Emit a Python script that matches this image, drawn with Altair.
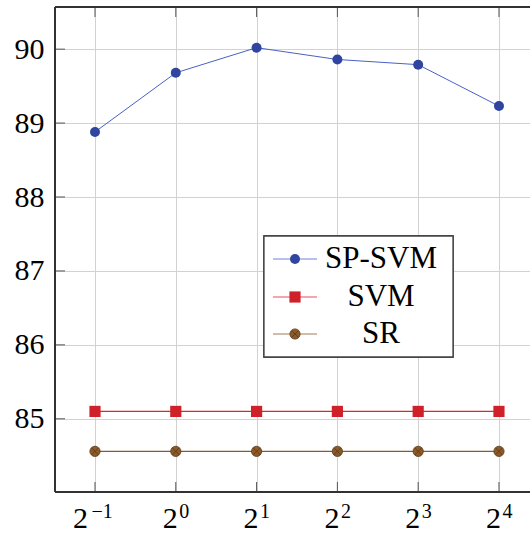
import altair as alt
import pandas as pd

# ---- data ----
exponents = [-1, 0, 1, 2, 3, 4]
exp_labels = ["−1", "0", "1", "2", "3", "4"]
sp_svm = [88.88, 89.68, 90.02, 89.86, 89.79, 89.23]
svm = [85.1, 85.1, 85.1, 85.1, 85.1, 85.1]
sr = [84.56, 84.56, 84.56, 84.56, 84.56, 84.56]
series_names = ["SP-SVM", "SVM", "SR"]
y_ticks = [85, 86, 87, 88, 89, 90]

# ---- style ----
W, H = 475, 485
FONT = "Liberation Serif"
BLUE_LINE, BLUE_FILL = "#4862c4", "#2f45a0"
RED_LINE, RED_FILL = "#e0242f", "#d0202a"
BROWN_LINE, BROWN_FILL, BROWN_EDGE = "#8b5a2b", "#8c5a28", "#5a3816"
AXIS_C = "#333333"
GRID_C = "#d2d2d2"
TICK_C = "#555555"

xs = alt.Scale(domain=[-1.495, 4.384], nice=False, zero=False)
ys = alt.Scale(domain=[84.01, 90.57], nice=False, zero=False)

AX = alt.Axis(values=exponents, grid=True, labels=False, ticks=False,
              domain=False, gridColor=GRID_C, gridWidth=1, title=None)
AY = alt.Axis(values=y_ticks, grid=True, ticks=False, domain=False,
              gridColor=GRID_C, gridWidth=1, labelFont=FONT,
              labelFontSize=30, labelColor="black", labelPadding=11, title=None)

def X(field="x"):
    return alt.X(f"{field}:Q", scale=xs, axis=AX, title=None)

def Y(field="y"):
    return alt.Y(f"{field}:Q", scale=ys, axis=AY, title=None)

df_sp = pd.DataFrame({"x": exponents, "y": sp_svm})
df_svm = pd.DataFrame({"x": exponents, "y": svm})
df_sr = pd.DataFrame({"x": exponents, "y": sr})
df_xt = pd.DataFrame({"x": exponents, "e": exp_labels, "b": ["2"] * 6})
df_yt = pd.DataFrame({"y": y_ticks})

# grid + y labels (anchor layer)
grid = alt.Chart(df_sp).mark_point(opacity=0).encode(x=X(), y=Y())

# tick marks (inward)
xt_bottom = alt.Chart(df_xt).mark_rule(color=TICK_C, strokeWidth=1).encode(
    x=X(), y=alt.value(H), y2=alt.value(H - 10))
xt_top = alt.Chart(df_xt).mark_rule(color=TICK_C, strokeWidth=1).encode(
    x=X(), y=alt.value(0), y2=alt.value(10))
yt_left = alt.Chart(df_yt).mark_rule(color=TICK_C, strokeWidth=1).encode(
    y=Y(), x=alt.value(0), x2=alt.value(10))

# frame lines
frame_left = alt.Chart(df_yt).mark_rule(color=AXIS_C, strokeWidth=1.3).encode(
    x=alt.value(0), y=alt.value(0), y2=alt.value(H))
frame_bottom = alt.Chart(df_yt).mark_rule(color=AXIS_C, strokeWidth=1.3).encode(
    x=alt.value(0), x2=alt.value(W), y=alt.value(H))
frame_top = alt.Chart(df_yt).mark_rule(color=AXIS_C, strokeWidth=1.3).encode(
    x=alt.value(0), x2=alt.value(W), y=alt.value(0))

# x labels 2^k
df_xt_main = df_xt[df_xt["x"] >= 0]
df_xt_neg = df_xt[df_xt["x"] < 0]
def xlabels(d, dx_base, dx_exp):
    base = alt.Chart(d).mark_text(font=FONT, fontSize=30, align="right",
                                  baseline="alphabetic", dx=dx_base, color="black").encode(
        x=X(), y=alt.value(H + 36), text="b:N")
    exp = alt.Chart(d).mark_text(font=FONT, fontSize=20, align="left",
                                 baseline="alphabetic", dx=dx_exp, color="black").encode(
        x=X(), y=alt.value(H + 26), text="e:N")
    return base + exp

xl_main = xlabels(df_xt_main, 2, 3.5)
xl_neg = xlabels(df_xt_neg, -7, -3.5)

# data series
sp_line = alt.Chart(df_sp).mark_line(color=BLUE_LINE, strokeWidth=1).encode(x=X(), y=Y())
sp_pts = alt.Chart(df_sp).mark_point(shape="circle", filled=True, size=100, opacity=1,
                                     color=BLUE_FILL).encode(x=X(), y=Y())
svm_line = alt.Chart(df_svm).mark_line(color=RED_LINE, strokeWidth=1.2).encode(x=X(), y=Y())
svm_pts = alt.Chart(df_svm).mark_point(shape="square", filled=True, size=125, opacity=1,
                                       color=RED_FILL).encode(x=X(), y=Y())
sr_line = alt.Chart(df_sr).mark_line(color=BROWN_LINE, strokeWidth=1.2).encode(x=X(), y=Y())
sr_pts = alt.Chart(df_sr).mark_point(shape="circle", filled=True, size=105, opacity=1,
                                     fill=BROWN_FILL, stroke=BROWN_EDGE, strokeWidth=0.8).encode(x=X(), y=Y())
CROSS = "M-0.7,-0.7L0.7,0.7M-0.7,0.7L0.7,-0.7"
sr_x = alt.Chart(df_sr).mark_point(shape=CROSS, filled=False, size=105, opacity=1,
                                   color=BROWN_EDGE, strokeWidth=0.8).encode(x=X(), y=Y())

# legend (custom, pgfplots-like)
LX0, LX1, LY0, LY1 = 209, 398, 229, 350
ROWS = [252, 290, 327]
SX0, SX1, SXC, TXC = 218, 262, 240, 326
df_leg = pd.DataFrame({"name": series_names})
leg_box = alt.Chart(df_leg).mark_rect(fill="white", stroke="#444444", strokeWidth=1.3).encode(
    x=alt.value(LX0), x2=alt.value(LX1), y=alt.value(LY0), y2=alt.value(LY1))
leg_layers = [leg_box]
styles = [
    (BLUE_LINE, dict(shape="circle", filled=True, size=100, color=BLUE_FILL)),
    (RED_LINE, dict(shape="square", filled=True, size=125, color=RED_FILL)),
    (BROWN_LINE, dict(shape="circle", filled=True, size=105, fill=BROWN_FILL,
                      stroke=BROWN_EDGE, strokeWidth=0.8)),
]
for i, name in enumerate(series_names):
    d = df_leg[df_leg["name"] == name]
    lc, ps = styles[i]
    ry = ROWS[i]
    leg_layers.append(alt.Chart(d).mark_rule(color=lc, strokeWidth=1.2, opacity=0.8).encode(
        x=alt.value(SX0), x2=alt.value(SX1), y=alt.value(ry)))
    leg_layers.append(alt.Chart(d).mark_point(opacity=1, **ps).encode(
        x=alt.value(SXC), y=alt.value(ry)))
    if name == "SR":
        leg_layers.append(alt.Chart(d).mark_point(shape=CROSS, filled=False, size=105, opacity=1,
                                                  color=BROWN_EDGE, strokeWidth=0.8).encode(
            x=alt.value(SXC), y=alt.value(ry)))
    leg_layers.append(alt.Chart(d).mark_text(font=FONT, fontSize=31, align="center",
                                             baseline="middle", color="black").encode(
        x=alt.value(TXC), y=alt.value(ry), text="name:N"))

chart = alt.layer(
    grid, xt_bottom, xt_top, yt_left,
    sp_line, svm_line, sr_line, sp_pts, svm_pts, sr_pts, sr_x,
    frame_left, frame_bottom, frame_top,
    xl_main, xl_neg,
    *leg_layers,
).properties(
    width=W, height=H,
    padding={"left": 55, "top": 7, "right": 0, "bottom": 42},
    autosize=alt.AutoSizeParams(type="none"),
    background="white",
).configure_view(stroke=None)

chart.save("out.html", embed_options={"renderer": "svg", "actions": False})
